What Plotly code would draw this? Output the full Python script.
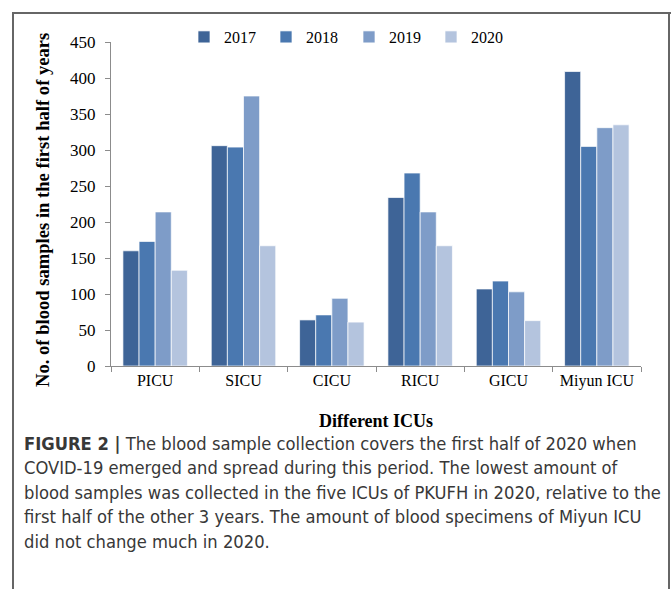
import plotly.graph_objects as go

icus = ["PICU", "SICU", "CICU", "RICU", "GICU", "Miyun ICU"]
years = ["2017", "2018", "2019", "2020"]
v2017 = [160, 306, 64, 234, 107, 409]
v2018 = [173, 304, 71, 268, 118, 305]
v2019 = [214, 375, 94, 214, 103, 331]
v2020 = [133, 167, 61, 167, 63, 335]
colors = ["#3e6497", "#4a78b0", "#7e9cc8", "#b4c4de"]

caption = [
    "<b>FIGURE 2 |</b> The blood sample collection covers the first half of 2020 when",
    "COVID-19 emerged and spread during this period. The lowest amount of",
    "blood samples was collected in the five ICUs of PKUFH in 2020, relative to the",
    "first half of the other 3 years. The amount of blood specimens of Miyun ICU",
    "did not change much in 2020.",
]

# plot area in pixels: x 111..641, y 42..366
W, H = 672, 589
L, R, T, B = 111, 641, 42, 366


def px(x):
    return (x - L) / (R - L)


def py(y):
    return (B - y) / (B - T)


fig = go.Figure()
legend_ids = ["legend", "legend2", "legend3", "legend4"]
for yr, vals, c, lg in zip(years, [v2017, v2018, v2019, v2020], colors, legend_ids):
    fig.add_trace(go.Bar(
        x=icus, y=vals, name=yr, legend=lg,
        marker=dict(color=c, line=dict(color="rgba(255,255,255,0.7)", width=1)),
    ))

# figure frame (bottom edge falls outside the page)
frame = dict(type="line", xref="paper", yref="paper", layer="above",
             line=dict(color="#666666", width=2))
fig.add_shape(x0=px(13), x1=px(13), y0=py(620), y1=py(12), **frame)
fig.add_shape(x0=px(12), x1=px(671), y0=py(13), y1=py(13), **frame)
fig.add_shape(x0=px(669), x1=px(669), y0=py(12), y1=py(620), **frame)

for i, line in enumerate(caption):
    fig.add_annotation(text=line, xref="paper", yref="paper",
                       x=px(22), y=py(443 + i * 24.5), xanchor="left", yanchor="middle",
                       showarrow=False, align="left",
                       font=dict(family="Liberation Sans Narrow, DejaVu Sans Condensed, Liberation Sans, sans-serif",
                                 size=18.2, color="#383838"))

# y axis title
fig.add_annotation(text="<b>No. of blood samples in the first half of years</b>",
                   xref="paper", yref="paper", x=px(42), y=py(210), textangle=-90,
                   xanchor="center", yanchor="middle", showarrow=False,
                   font=dict(size=18.6))

legend_style = dict(orientation="h", xanchor="left", y=py(37), yanchor="middle",
                    font=dict(size=16), bgcolor="rgba(0,0,0,0)")

fig.update_layout(
    width=W, height=H,
    margin=dict(l=L, r=W - R, t=T, b=H - B),
    paper_bgcolor="white", plot_bgcolor="white",
    barmode="group", bargap=0.27, bargroupgap=0,
    font=dict(family="Liberation Serif, Times New Roman, serif", size=16, color="black"),
    showlegend=True,
    legend=dict(x=px(184), **legend_style),
    legend2=dict(x=px(266), **legend_style),
    legend3=dict(x=px(349), **legend_style),
    legend4=dict(x=px(431), **legend_style),
    xaxis=dict(
        title=dict(text="<b>Different ICUs</b>", font=dict(size=18), standoff=25),
        showline=True, linecolor="#8c8c8c", linewidth=1,
        ticks="outside", tickson="boundaries", ticklen=5, tickcolor="#8c8c8c",
        showgrid=False,
    ),
    yaxis=dict(
        range=[0, 450], dtick=50, tickfont=dict(size=17), ticklabelstandoff=6,
        showline=True, linecolor="#8c8c8c", linewidth=1,
        ticks="outside", ticklen=5, tickcolor="#8c8c8c",
        showgrid=False, zeroline=False,
    ),
)

fig.write_html("out.html", config={"displayModeBar": False},
               post_script="document.body.style.margin='0';document.body.style.overflow='hidden';")
